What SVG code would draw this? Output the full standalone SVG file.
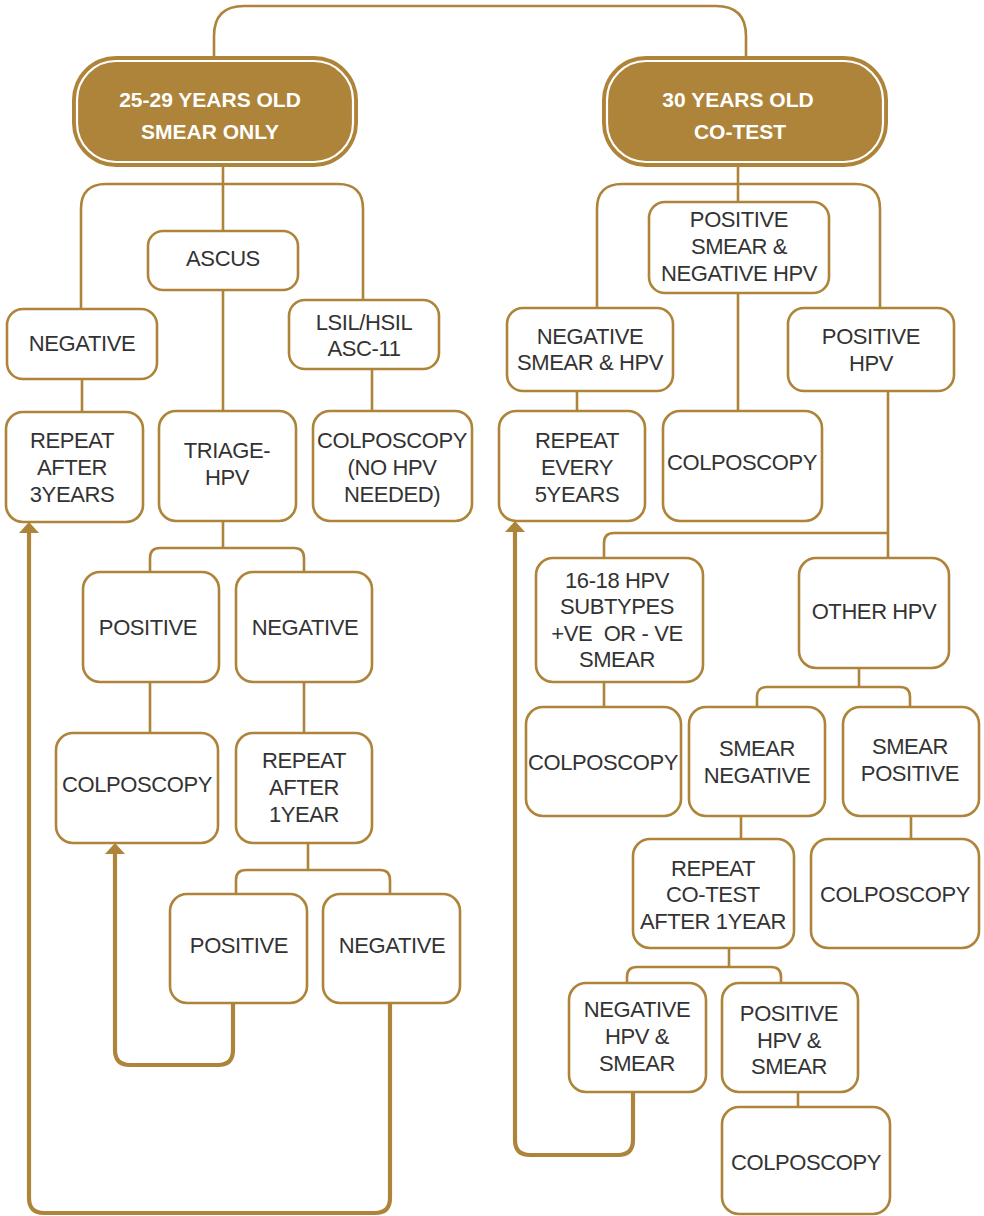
<svg xmlns="http://www.w3.org/2000/svg" width="984" height="1216" viewBox="0 0 984 1216">
<defs>
<style>
.box{fill:#fff;stroke:#AE843A;stroke-width:2.6}
.t{font-family:"Liberation Sans",Arial,sans-serif;font-size:22px;letter-spacing:-0.4px;fill:#333;text-anchor:middle}
.h{font-family:"Liberation Sans",Arial,sans-serif;font-size:21px;font-weight:bold;fill:#fff;text-anchor:middle}
.hd{fill:#AE843A}
.hi{fill:none;stroke:#fff;stroke-width:2.2}
.c{fill:none;stroke:#AE843A;stroke-width:2.6}
.lp{fill:none;stroke:#AE843A;stroke-width:4.2}
.pre{white-space:pre}
</style>
<marker id="arr" markerUnits="userSpaceOnUse" markerWidth="11" markerHeight="20" viewBox="0 0 11 20" refX="0" refY="10" orient="auto">
<path d="M0,0 L11,10 L0,20 z" fill="#AE843A"/>
</marker>
</defs>
<rect width="984" height="1216" fill="#fff"/>
<g id="connectors">
<path class="c" d="M214,58 V36 Q214,6 244,6 H716 Q746,6 746,36 V58"/>
<path class="c" d="M81,309 V209 Q81,184 106,184 H338 Q363,184 363,209 V300"/>
<path class="c" d="M223,166 V230"/>
<path class="c" d="M223,290 V411"/>
<path class="c" d="M82,379 V412"/>
<path class="c" d="M372,369 V411"/>
<path class="c" d="M223,521 V548"/>
<path class="c" d="M150,572 V558 Q150,548 160,548 H294 Q304,548 304,558 V572"/>
<path class="c" d="M150,682 V733"/>
<path class="c" d="M304,682 V733"/>
<path class="c" d="M308,843 V870"/>
<path class="c" d="M236,894 V880 Q236,870 246,870 H380 Q390,870 390,880 V894"/>
<path class="lp" d="M233,1003 V1050 Q233,1065 218,1065 H130 Q115,1065 115,1050 V854" marker-end="url(#arr)"/>
<path class="lp" d="M390,1003 V1198 Q390,1213 375,1213 H44 Q29,1213 29,1198 V533" marker-end="url(#arr)"/>
<path class="c" d="M597,308 V209 Q597,184 622,184 H855 Q880,184 880,209 V308"/>
<path class="c" d="M738,166 V202"/>
<path class="c" d="M738,293 V411"/>
<path class="c" d="M577,391 V411"/>
<path class="c" d="M888,391 V558"/>
<path class="c" d="M888,533 H614 Q604,533 604,543 V558"/>
<path class="c" d="M604,682 V707"/>
<path class="c" d="M859,668 V687"/>
<path class="c" d="M757,707 V697 Q757,687 767,687 H900 Q910,687 910,697 V707"/>
<path class="c" d="M741,816 V839"/>
<path class="c" d="M911,816 V839"/>
<path class="c" d="M729,948 V967"/>
<path class="c" d="M627,983 V977 Q627,967 637,967 H771 Q781,967 781,977 V983"/>
<path class="c" d="M798,1092 V1107"/>
<path class="lp" d="M633,1092 V1140 Q633,1155 618,1155 H530 Q515,1155 515,1140 V532" marker-end="url(#arr)"/>
</g>
<g id="h-left">
<rect class="hd" x="72" y="56" width="286" height="111" rx="44"/>
<rect class="hi" x="77" y="61" width="276" height="101" rx="39"/>
<text class="h" x="210" y="107">25-29 YEARS OLD</text>
<text class="h" x="210" y="139">SMEAR ONLY</text>
</g>
<g id="h-right">
<rect class="hd" x="602" y="56" width="286" height="111" rx="44"/>
<rect class="hi" x="607" y="61" width="276" height="101" rx="39"/>
<text class="h" x="738" y="107">30 YEARS OLD</text>
<text class="h" x="740" y="139">CO-TEST</text>
</g>
<g id="l-ascus"><rect class="box" x="148" y="231" width="150" height="59" rx="15"/><text class="t" x="223" y="266">ASCUS</text></g>
<g id="l-neg"><rect class="box" x="7" y="309" width="150" height="70" rx="16"/><text class="t" x="82" y="351">NEGATIVE</text></g>
<g id="l-lsil"><rect class="box" x="289" y="300" width="150" height="69" rx="16"/><text class="t" x="364" y="330">LSIL/HSIL</text><text class="t" x="364" y="356">ASC-11</text></g>
<g id="l-rep3"><rect class="box" x="6" y="412" width="137" height="110" rx="17"/><text class="t" x="72" y="448">REPEAT</text><text class="t" x="72" y="475">AFTER</text><text class="t" x="72" y="502">3YEARS</text></g>
<g id="l-triage"><rect class="box" x="159" y="411" width="137" height="110" rx="17"/><text class="t" x="227" y="458">TRIAGE-</text><text class="t" x="227" y="485">HPV</text></g>
<g id="l-colpo1"><rect class="box" x="313" y="411" width="159" height="110" rx="17"/><text class="t" x="392" y="448">COLPOSCOPY</text><text class="t" x="392" y="475">(NO HPV</text><text class="t" x="392" y="502">NEEDED)</text></g>
<g id="l-pos1"><rect class="box" x="83" y="572" width="136" height="110" rx="17"/><text class="t" x="148" y="635">POSITIVE</text></g>
<g id="l-neg1"><rect class="box" x="236" y="572" width="136" height="110" rx="17"/><text class="t" x="305" y="635">NEGATIVE</text></g>
<g id="l-colpo2"><rect class="box" x="56" y="733" width="162" height="110" rx="17"/><text class="t" x="137" y="792">COLPOSCOPY</text></g>
<g id="l-rep1"><rect class="box" x="236" y="733" width="136" height="110" rx="17"/><text class="t" x="304" y="768">REPEAT</text><text class="t" x="304" y="795">AFTER</text><text class="t" x="304" y="822">1YEAR</text></g>
<g id="l-pos2"><rect class="box" x="170" y="894" width="137" height="109" rx="17"/><text class="t" x="239" y="953">POSITIVE</text></g>
<g id="l-neg2"><rect class="box" x="323" y="894" width="137" height="109" rx="17"/><text class="t" x="392" y="953">NEGATIVE</text></g>
<g id="r-possmear"><rect class="box" x="649" y="202" width="180" height="91" rx="16"/><text class="t" x="739" y="227">POSITIVE</text><text class="t" x="739" y="254">SMEAR &amp;</text><text class="t" x="739" y="281">NEGATIVE HPV</text></g>
<g id="r-negsmear"><rect class="box" x="507" y="308" width="166" height="83" rx="16"/><text class="t" x="590" y="344">NEGATIVE</text><text class="t" x="590" y="370">SMEAR &amp; HPV</text></g>
<g id="r-poshpv"><rect class="box" x="788" y="308" width="166" height="83" rx="16"/><text class="t" x="871" y="344">POSITIVE</text><text class="t" x="871" y="371">HPV</text></g>
<g id="r-rep5"><rect class="box" x="499" y="411" width="146" height="110" rx="17"/><text class="t" x="577" y="448">REPEAT</text><text class="t" x="577" y="475">EVERY</text><text class="t" x="577" y="502">5YEARS</text></g>
<g id="r-colpo1"><rect class="box" x="663" y="411" width="159" height="110" rx="17"/><text class="t" x="742" y="470">COLPOSCOPY</text></g>
<g id="r-1618"><rect class="box" x="536" y="558" width="167" height="124" rx="17"/><text class="t" x="617" y="588">16-18 HPV</text><text class="t" x="617" y="614">SUBTYPES</text><text class="t pre" x="617" y="641" xml:space="preserve">+VE  OR - VE</text><text class="t" x="617" y="667">SMEAR</text></g>
<g id="r-other"><rect class="box" x="799" y="558" width="150" height="110" rx="17"/><text class="t" x="874" y="619">OTHER HPV</text></g>
<g id="r-colpo2"><rect class="box" x="526" y="707" width="155" height="109" rx="17"/><text class="t" x="603" y="770">COLPOSCOPY</text></g>
<g id="r-smearneg"><rect class="box" x="689" y="707" width="136" height="109" rx="17"/><text class="t" x="757" y="756">SMEAR</text><text class="t" x="757" y="783">NEGATIVE</text></g>
<g id="r-smearpos"><rect class="box" x="843" y="707" width="136" height="109" rx="17"/><text class="t" x="910" y="754">SMEAR</text><text class="t" x="910" y="781">POSITIVE</text></g>
<g id="r-repco"><rect class="box" x="633" y="839" width="161" height="109" rx="17"/><text class="t" x="713" y="876">REPEAT</text><text class="t" x="713" y="902">CO-TEST</text><text class="t" x="713" y="929">AFTER 1YEAR</text></g>
<g id="r-colpo3"><rect class="box" x="811" y="839" width="168" height="109" rx="17"/><text class="t" x="895" y="902">COLPOSCOPY</text></g>
<g id="r-neghpv"><rect class="box" x="569" y="983" width="137" height="109" rx="17"/><text class="t" x="637" y="1017">NEGATIVE</text><text class="t" x="637" y="1044">HPV &amp;</text><text class="t" x="637" y="1071">SMEAR</text></g>
<g id="r-poshpv2"><rect class="box" x="722" y="983" width="136" height="109" rx="17"/><text class="t" x="789" y="1021">POSITIVE</text><text class="t" x="789" y="1048">HPV &amp;</text><text class="t" x="789" y="1074">SMEAR</text></g>
<g id="r-colpo4"><rect class="box" x="722" y="1107" width="168" height="107" rx="17"/><text class="t" x="806" y="1170">COLPOSCOPY</text></g>
</svg>
